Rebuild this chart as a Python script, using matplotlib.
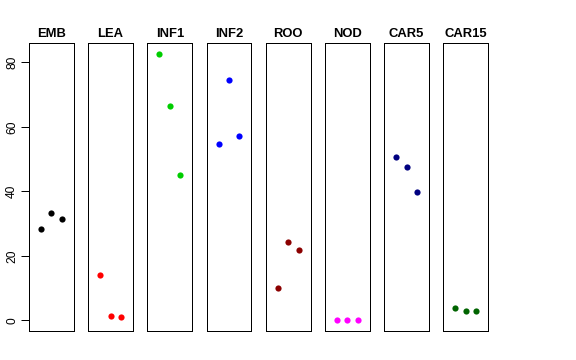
#!/usr/bin/env python3
"""Dot strips per tissue, one narrow panel each, shared y scale."""
import matplotlib
matplotlib.use("Agg")
import matplotlib.pyplot as plt

tissues = ["EMB", "LEA", "INF1", "INF2", "ROO", "NOD", "CAR5", "CAR15"]
colors = ["black", "red", "#00CD00", "blue", "#8B0000", "magenta", "#000080", "#006400"]

emb = [28.4, 33.3, 31.4]
lea = [14.0, 1.3, 1.1]
inf1 = [82.6, 66.4, 45.1]
inf2 = [54.8, 74.6, 57.2]
roo = [10.0, 24.4, 21.8]
nod = [0.2, 0.2, 0.1]
car5 = [50.5, 47.6, 39.9]
car15 = [3.8, 3.0, 2.9]
values = [emb, lea, inf1, inf2, roo, nod, car5, car15]

y_ticks = [0, 20, 40, 60, 80]

plt.rcParams["font.family"] = ["Liberation Sans", "DejaVu Sans"]

fig = plt.figure(figsize=(8, 5), dpi=72)
W, H = 576.0, 360.0
left0, pitch, width = 29.0, 59.2, 44.8
top, bottom = 43.3, 331.0

lo, hi = 0.0, max(max(v) for v in values)
pad = (hi - lo) * 0.04

for i, (name, col, vals) in enumerate(zip(tissues, colors, values)):
    ax = fig.add_axes([(left0 + i * pitch) / W, 1 - bottom / H,
                       width / W, (bottom - top) / H])
    ax.plot(range(1, len(vals) + 1), vals, "o", color=col, markersize=6.2,
            markeredgewidth=0)
    ax.set_xlim(-0.16, 4.16)
    ax.set_ylim(lo - pad, hi + pad)
    ax.set_xticks([])
    ax.set_title(name, fontsize=13, fontweight="bold", pad=6)
    for s in ax.spines.values():
        s.set_linewidth(1.0)
    if i == 0:
        ax.set_yticks(y_ticks)
        ax.tick_params(axis="y", length=8, width=1, pad=3, labelsize=12)
        for lab in ax.get_yticklabels():
            lab.set_rotation(90)
            lab.set_va("center")
    else:
        ax.set_yticks([])

fig.savefig("out.png", dpi=72)
